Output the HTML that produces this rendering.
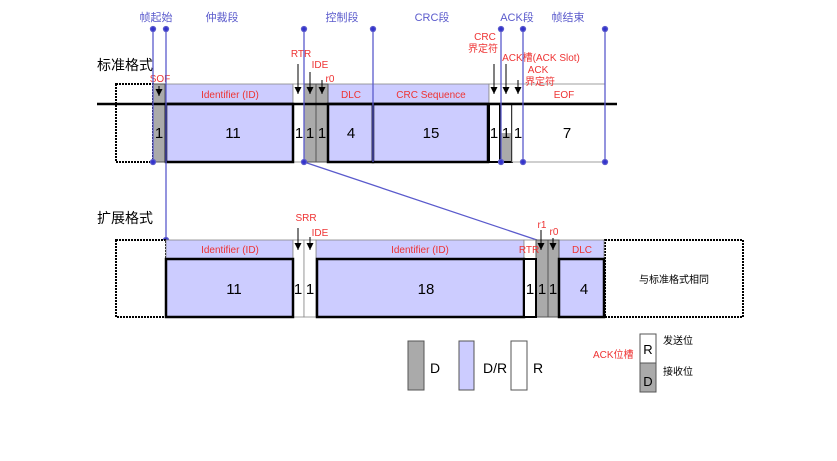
<!DOCTYPE html>
<html><head><meta charset="utf-8"><style>
html,body{margin:0;padding:0;background:#fff}
svg{display:block}
text{font-family:"Liberation Sans","Noto Sans CJK SC",sans-serif}
</style></head><body>
<svg width="837" height="461" viewBox="0 0 837 461" xmlns="http://www.w3.org/2000/svg">
<defs><marker id="a" markerWidth="8" markerHeight="8" refX="7" refY="3.5" orient="auto" markerUnits="userSpaceOnUse"><path d="M0,0 L7,3.5 L0,7 z" fill="#000"/></marker></defs>
<g font-size="11" fill="#5a5acc" text-anchor="middle">
<text x="156" y="21">帧起始</text><text x="222" y="21">仲裁段</text><text x="342" y="21">控制段</text>
<text x="432" y="21">CRC段</text><text x="517" y="21">ACK段</text><text x="568" y="21">帧结束</text>
</g>
<text x="97" y="70" font-size="14" fill="#000">标准格式</text>
<text x="97" y="223" font-size="14" fill="#000">扩展格式</text>
<!-- standard frame -->
<rect x="116" y="84" width="37" height="78" fill="#fff" stroke="#000" stroke-width="2" stroke-dasharray="2,1"/>
<rect x="165" y="84" width="128" height="19" fill="#ccccff" stroke="#888" stroke-width="0.8"/>
<rect x="328" y="84" width="161" height="19" fill="#ccccff" stroke="#888" stroke-width="0.8"/>
<rect x="293" y="84" width="11" height="78" fill="#fff" stroke="#888" stroke-width="0.8"/>
<rect x="489" y="84" width="116" height="19" fill="#fff" stroke="#888" stroke-width="0.8"/>
<rect x="153" y="84" width="12" height="78" fill="#aaa" stroke="#555" stroke-width="1"/>
<rect x="304" y="84" width="12" height="78" fill="#aaa" stroke="#555" stroke-width="1"/>
<rect x="316" y="84" width="12" height="78" fill="#aaa" stroke="#555" stroke-width="1"/>
<rect x="166" y="104" width="127" height="58" fill="#ccccff" stroke="#000" stroke-width="2.5"/>
<rect x="328" y="104" width="45" height="58" fill="#ccccff" stroke="#000" stroke-width="2.5"/>
<rect x="373" y="104" width="115" height="58" fill="#ccccff" stroke="#000" stroke-width="2.5"/>
<rect x="489" y="104" width="11" height="58" fill="#fff" stroke="#000" stroke-width="2"/>
<rect x="500" y="133" width="12" height="29" fill="#aaa"/>
<rect x="500" y="104" width="12" height="58" fill="none" stroke="#000" stroke-width="2"/>
<rect x="512" y="104" width="93" height="58" fill="#fff" stroke="#888" stroke-width="0.8"/>
<line x1="97" y1="104" x2="617" y2="104" stroke="#000" stroke-width="2.5"/>
<g font-size="15" fill="#000" text-anchor="middle">
<text x="159" y="138">1</text><text x="233" y="138">11</text><text x="299" y="138">1</text><text x="310" y="138">1</text><text x="322" y="138">1</text>
<text x="351" y="138">4</text><text x="431" y="138">15</text><text x="494" y="138">1</text><text x="506" y="138">1</text><text x="518" y="138">1</text><text x="567" y="138">7</text>
</g>
<g font-size="10" fill="#e33" text-anchor="middle">
<text x="230" y="98">Identifier (ID)</text><text x="351" y="98">DLC</text><text x="431" y="98">CRC Sequence</text><text x="564" y="98">EOF</text>
<text x="160" y="82">SOF</text><text x="301" y="57">RTR</text><text x="320" y="68">IDE</text><text x="330" y="82">r0</text>
<text x="485" y="40">CRC</text><text x="483" y="52">界定符</text><text x="541" y="61">ACK槽(ACK Slot)</text>
<text x="538" y="73">ACK</text><text x="540" y="85">界定符</text>
</g>
<g stroke="#000" stroke-width="1" marker-end="url(#a)">
<line x1="159" y1="86" x2="159" y2="96"/><line x1="298" y1="64" x2="298" y2="94"/><line x1="310" y1="72" x2="310" y2="94"/>
<line x1="322" y1="80" x2="322" y2="94"/><line x1="494" y1="64" x2="494" y2="94"/><line x1="506" y1="64" x2="506" y2="94"/><line x1="518" y1="80" x2="518" y2="94"/>
</g>
<!-- blue guide lines -->
<g stroke="#5a5acc" stroke-width="1.3" fill="#3333cc">
<line x1="153" y1="29" x2="153" y2="162"/><line x1="166" y1="29" x2="166" y2="240"/>
<line x1="304" y1="29" x2="304" y2="162"/><line x1="373" y1="29" x2="373" y2="162"/>
<line x1="501" y1="29" x2="501" y2="162"/><line x1="523" y1="29" x2="523" y2="162"/><line x1="605" y1="29" x2="605" y2="162"/>
<line x1="304" y1="162" x2="537" y2="240"/>
<circle cx="153" cy="29" r="2.5"/><circle cx="166" cy="29" r="2.5"/><circle cx="304" cy="29" r="2.5"/><circle cx="373" cy="29" r="2.5"/>
<circle cx="501" cy="29" r="2.5"/><circle cx="523" cy="29" r="2.5"/><circle cx="605" cy="29" r="2.5"/>
<circle cx="153" cy="162" r="2.5"/><circle cx="304" cy="162" r="2.5"/><circle cx="501" cy="162" r="2.5"/><circle cx="523" cy="162" r="2.5"/><circle cx="605" cy="162" r="2.5"/>
<circle cx="166" cy="240" r="2.5"/>
</g>
<!-- extended frame -->
<rect x="116" y="240" width="50" height="77" fill="#fff" stroke="#000" stroke-width="2" stroke-dasharray="2,1"/>
<rect x="605" y="240" width="138" height="77" fill="#fff" stroke="#000" stroke-width="2" stroke-dasharray="2,1"/>
<rect x="166" y="240" width="127" height="19" fill="#ccccff" stroke="#888" stroke-width="0.8"/>
<rect x="316" y="240" width="208" height="19" fill="#ccccff" stroke="#888" stroke-width="0.8"/>
<rect x="559" y="240" width="45" height="19" fill="#ccccff" stroke="#888" stroke-width="0.8"/>
<rect x="293" y="240" width="11" height="77" fill="#fff" stroke="#888" stroke-width="0.8"/>
<rect x="304" y="240" width="12" height="77" fill="#fff" stroke="#888" stroke-width="0.8"/>
<rect x="524" y="240" width="12" height="77" fill="#fff" stroke="#888" stroke-width="0.8"/>
<rect x="536" y="240" width="12" height="77" fill="#aaa" stroke="#555" stroke-width="1"/>
<rect x="548" y="240" width="11" height="77" fill="#aaa" stroke="#555" stroke-width="1"/>
<rect x="166" y="259" width="127" height="58" fill="#ccccff" stroke="#000" stroke-width="2.5"/>
<rect x="317" y="259" width="207" height="58" fill="#ccccff" stroke="#000" stroke-width="2.5"/>
<rect x="524" y="259" width="12" height="58" fill="#fff" stroke="#000" stroke-width="2"/>
<rect x="559" y="259" width="45" height="58" fill="#ccccff" stroke="#000" stroke-width="2.5"/>
<g font-size="15" fill="#000" text-anchor="middle">
<text x="234" y="294">11</text><text x="298" y="294">1</text><text x="310" y="294">1</text><text x="426" y="294">18</text>
<text x="530" y="294">1</text><text x="542" y="294">1</text><text x="553" y="294">1</text><text x="584" y="294">4</text>
</g>
<text x="674" y="283" font-size="10" fill="#000" text-anchor="middle">与标准格式相同</text>
<g font-size="10" fill="#e33" text-anchor="middle">
<text x="230" y="253">Identifier (ID)</text><text x="420" y="253">Identifier (ID)</text><text x="529" y="253">RTR</text><text x="582" y="253">DLC</text>
<text x="306" y="221">SRR</text><text x="320" y="236">IDE</text><text x="542" y="228">r1</text><text x="554" y="235">r0</text>
</g>
<g stroke="#000" stroke-width="1" marker-end="url(#a)">
<line x1="298" y1="228" x2="298" y2="250"/><line x1="310" y1="237" x2="310" y2="250"/>
<line x1="541" y1="230" x2="541" y2="250"/><line x1="553" y1="238" x2="553" y2="250"/>
</g>
<!-- legend -->
<rect x="408" y="341" width="16" height="49" fill="#aaa" stroke="#555"/>
<rect x="459" y="341" width="15" height="49" fill="#ccccff" stroke="#555"/>
<rect x="511" y="341" width="16" height="49" fill="#fff" stroke="#555"/>
<g font-size="14" fill="#000"><text x="430" y="373">D</text><text x="483" y="373">D/R</text><text x="533" y="373">R</text></g>
<rect x="640" y="334" width="16" height="29" fill="#fff" stroke="#555"/>
<rect x="640" y="363" width="16" height="29" fill="#aaa" stroke="#555"/>
<g font-size="13" fill="#000" text-anchor="middle"><text x="648" y="354">R</text><text x="648" y="386">D</text></g>
<text x="593" y="358" font-size="10" fill="#e33">ACK位槽</text>
<g font-size="10" fill="#000"><text x="663" y="344">发送位</text><text x="663" y="375">接收位</text></g>
</svg>
</body></html>
